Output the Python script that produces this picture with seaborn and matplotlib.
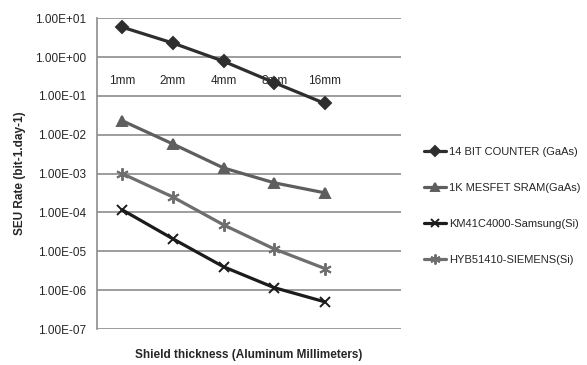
import numpy as np
import pandas as pd
import matplotlib
matplotlib.use("Agg")
import matplotlib.pyplot as plt
import seaborn as sns

# data
thickness = ["1mm", "2mm", "4mm", "8mm", "16mm"]
counter_14bit = [5.9, 2.3, 0.78, 0.22, 0.064]
mesfet_sram = [2.3e-2, 5.8e-3, 1.4e-3, 5.8e-4, 3.2e-4]
km41c4000 = [1.17e-4, 2.1e-5, 4.0e-6, 1.16e-6, 5.0e-7]
hyb51410 = [1.0e-3, 2.5e-4, 4.8e-5, 1.15e-5, 3.6e-6]

series_names = ["14 BIT COUNTER (GaAs)", "1K MESFET SRAM(GaAs)",
                "KM41C4000-Samsung(Si)", "HYB51410-SIEMENS(Si)"]
series_values = [counter_14bit, mesfet_sram, km41c4000, hyb51410]
series_colors = ["#2e2e2e", "#5e5e5e", "#1c1c1c", "#6e6e6e"]
series_markers = ["D", "^", "x", (6, 2, 0)]
series_msize = [6, 7, 7, 9]

sns.set_theme(style="white")
plt.rcParams['font.family'] = ['Liberation Sans', 'DejaVu Sans']

fig = plt.figure(figsize=(5.87, 3.65), dpi=100)
ax = fig.add_axes([0.165, 0.0986, 0.518, 0.8514])

xpos = np.arange(len(thickness))
for name, vals, col, mk, ms in zip(series_names, series_values, series_colors,
                                   series_markers, series_msize):
    df = pd.DataFrame({"x": xpos, "y": vals})
    sns.lineplot(data=df, x="x", y="y", ax=ax, color=col, linewidth=2.3,
                 marker=mk, markersize=ms, markeredgewidth=1.4,
                 markeredgecolor=col, label=name)

ax.set_yscale("log")
ax.set_ylim(1e-7, 1e1)
ax.set_xlim(-0.5, 5.5)
ax.set_yticks([10.0 ** k for k in range(-7, 2)])
ax.set_yticklabels(["%.2E" % (10.0 ** k) for k in range(-7, 2)], fontsize=8.5)
ax.minorticks_off()
ax.yaxis.grid(True, color="#8c8c8c", linewidth=1.2)
ax.xaxis.grid(False)
ax.tick_params(axis="y", length=5, color="#8c8c8c", pad=3)

# category axis crosses at 1.0, like the original
ax.spines['bottom'].set_position(('data', 1.0))
ax.spines['bottom'].set_visible(False)
ax.set_xticks(xpos)
ax.set_xticklabels(thickness, fontsize=8.5)
ax.tick_params(axis="x", length=0, pad=13)
for s in ["top", "right"]:
    ax.spines[s].set_visible(False)
ax.spines['left'].set_color("#8c8c8c")
ax.spines['left'].set_linewidth(1.2)

ax.set_xlabel("")
ax.set_ylabel("SEU Rate (bit-1.day-1)", fontsize=8.5, fontweight="bold", labelpad=6)
fig.text(0.424, 0.028, "Shield thickness (Aluminum Millimeters)",
         fontsize=8.5, fontweight="bold", ha="center", va="center")

leg = ax.legend(loc="upper left", bbox_to_anchor=(1.06, 0.6), frameon=False,
                fontsize=8, handlelength=2.0, handletextpad=0.3,
                labelspacing=2.35, borderaxespad=0, markerscale=0.8)

fig.savefig("out.png", dpi=100)
